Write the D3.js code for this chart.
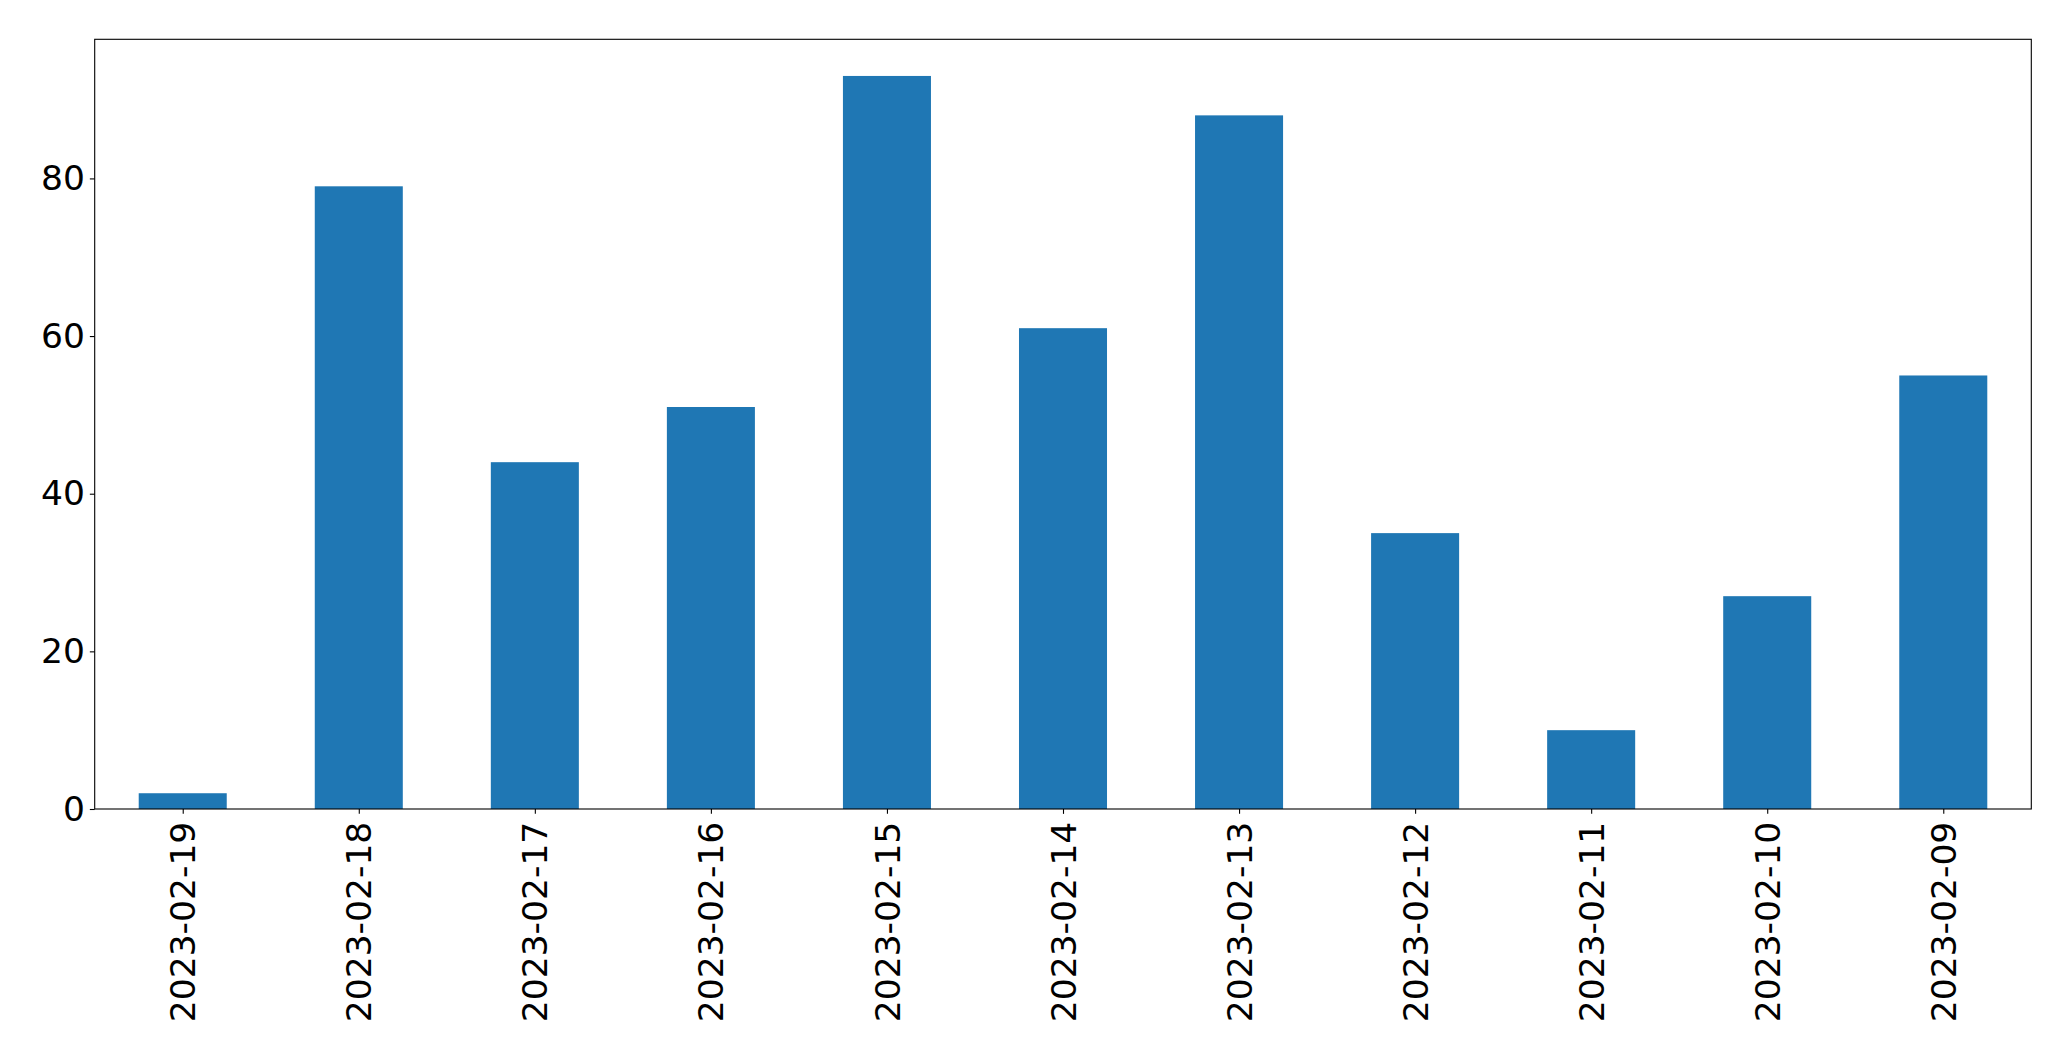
<!DOCTYPE html>
<html>
<head>
<meta charset="utf-8">
<script src="https://cdn.jsdelivr.net/npm/d3@7"></script>
<style>
  html, body { margin: 0; padding: 0; background: #fff; }
  svg { display: block; }
  text { font-family: "DejaVu Sans", sans-serif; fill: #000; }
</style>
</head>
<body>
<svg id="chart" width="2071" height="1061"></svg>
<script>
const categories = ["2023-02-19","2023-02-18","2023-02-17","2023-02-16","2023-02-15","2023-02-14","2023-02-13","2023-02-12","2023-02-11","2023-02-10","2023-02-09"];
const values = [2, 79, 44, 51, 93, 61, 88, 35, 10, 27, 55];
const yTicks = [0, 20, 40, 60, 80];

const W = 2071, H = 1061;
const margin = {left: 94.7, right: W - 2031.3, top: 39.3, bottom: H - 809};
const fontSize = 34.5;
const tickLen = 4.86, pad = 4.86;

const svg = d3.select("#chart");
const iw = W - margin.left - margin.right;
const ih = H - margin.top - margin.bottom;
const g = svg.append("g").attr("transform", `translate(${margin.left},${margin.top})`);

const n = categories.length;
const x = d3.scaleLinear().domain([-0.5, n - 0.5]).range([0, iw]);
const ymax = d3.max(values) * 1.05;
const y = d3.scaleLinear().domain([0, ymax]).range([ih, 0]);

g.selectAll("rect.bar").data(values).enter().append("rect")
  .attr("class", "bar")
  .attr("x", (d, i) => x(i - 0.25))
  .attr("width", (d, i) => x(i + 0.25) - x(i - 0.25))
  .attr("y", d => y(d))
  .attr("height", d => y(0) - y(d))
  .attr("fill", "#1f77b4");

// Y axis
const yAxis = d3.axisLeft(y).tickValues(yTicks).tickSize(tickLen).tickPadding(pad).tickFormat(d3.format("d"));
const ya = g.append("g").call(yAxis);
ya.select(".domain").remove();
ya.selectAll(".tick line").attr("stroke", "#000").attr("stroke-width", 1.1);
ya.selectAll(".tick text").attr("font-size", fontSize).attr("font-family", "DejaVu Sans").attr("fill", "#000");

// X axis
const xAxis = d3.axisBottom(x).tickValues(d3.range(n)).tickSize(tickLen).tickPadding(pad).tickFormat(i => categories[i]);
const xa = g.append("g").attr("transform", `translate(0,${ih})`).call(xAxis);
xa.select(".domain").remove();
xa.selectAll(".tick line").attr("stroke", "#000").attr("stroke-width", 1.1);
xa.selectAll(".tick text")
  .attr("font-size", fontSize).attr("font-family", "DejaVu Sans").attr("fill", "#000")
  .attr("text-anchor", "end")
  .attr("transform", `translate(0,${tickLen + pad + 3}) rotate(-90)`)
  .attr("x", 0).attr("y", 0).attr("dy", "0.35em");

// Frame
g.append("rect").attr("x", 0).attr("y", 0).attr("width", iw).attr("height", ih)
  .attr("fill", "none").attr("stroke", "#000").attr("stroke-width", 1.1);
</script>
</body>
</html>
